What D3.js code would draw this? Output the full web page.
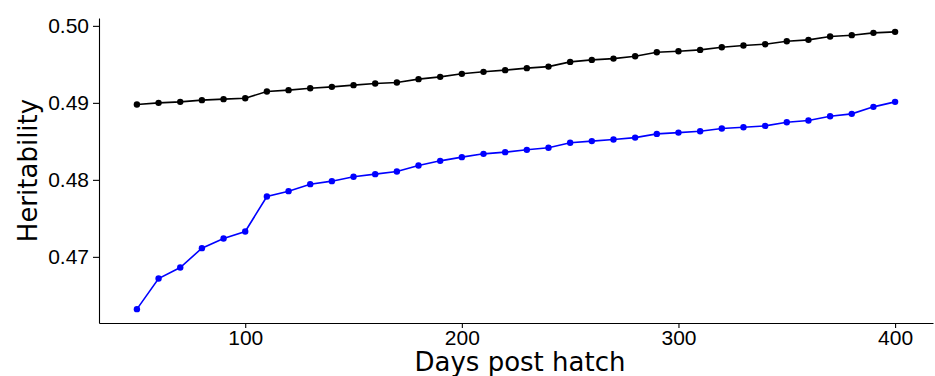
<!DOCTYPE html>
<html>
<head>
<meta charset="utf-8">
<script src="https://cdn.jsdelivr.net/npm/d3@7/dist/d3.min.js"></script>
<style>
  body { margin: 0; background: #fff; }
  svg { display: block; font-family: "DejaVu Sans", sans-serif; }
  .axis path, .axis line { stroke: #000; stroke-width: 1.1; }
  .axis text { fill: #000; font-size: 21px; }
</style>
</head>
<body>
<svg id="chart"></svg>
<script>
// days post hatch
const days = d3.range(50, 401, 10);

// upper (black) series
const blackValues = [
  0.48978, 0.49000, 0.49013, 0.49035, 0.49048, 0.49060, 0.49147, 0.49165, 0.49190, 0.49208,
  0.49230, 0.49251, 0.49264, 0.49308, 0.49338, 0.49377, 0.49403, 0.49425, 0.49451, 0.49471,
  0.49532, 0.49558, 0.49575, 0.49606, 0.49658, 0.49671, 0.49688, 0.49723, 0.49744, 0.49762,
  0.49801, 0.49818, 0.49861, 0.49879, 0.49909, 0.49922
];

// lower (blue) series
const blueValues = [
  0.46321, 0.46718, 0.46861, 0.47113, 0.47238, 0.47329, 0.47783, 0.47853, 0.47944, 0.47983,
  0.48040, 0.48074, 0.48108, 0.48186, 0.48247, 0.48295, 0.48338, 0.48360, 0.48390, 0.48416,
  0.48481, 0.48503, 0.48524, 0.48549, 0.48597, 0.48614, 0.48632, 0.48666, 0.48684, 0.48701,
  0.48749, 0.48770, 0.48827, 0.48857, 0.48948, 0.49013
];

const xTicks = [100, 200, 300, 400];
const yTicks = [0.47, 0.48, 0.49, 0.50];

const width = 935, height = 376;
const margin = { top: 18, right: 2, bottom: 53, left: 99 };

const svg = d3.select('#chart').attr('width', width).attr('height', height);

// ggplot-style 5% expansion
const xPad = (400 - 50) * 0.05;
const yMin = d3.min(blueValues), yMax = d3.max(blackValues);
const yPad = (yMax - yMin) * 0.05;

const x = d3.scaleLinear()
  .domain([50 - xPad, 400 + xPad])
  .range([margin.left, width - margin.right]);

const y = d3.scaleLinear()
  .domain([yMin - yPad, yMax + yPad])
  .range([height - margin.bottom, margin.top]);

// axes
svg.append('g')
  .attr('class', 'axis')
  .attr('transform', `translate(0,${height - margin.bottom})`)
  .call(d3.axisBottom(x).tickValues(xTicks).tickSize(5).tickPadding(2).tickSizeOuter(0))
  .selectAll('text').attr('dy', '0.71em');

svg.append('g')
  .attr('class', 'axis')
  .attr('transform', `translate(${margin.left},0)`)
  .call(d3.axisLeft(y).tickValues(yTicks).tickFormat(d3.format('.2f')).tickSize(6).tickPadding(4).tickSizeOuter(0));

// axis titles
svg.append('text')
  .attr('x', 520)
  .attr('y', 371)
  .attr('text-anchor', 'middle')
  .style('font-size', '26px')
  .text('Days post hatch');

svg.append('text')
  .attr('transform', `translate(37,${(margin.top + height - margin.bottom) / 2}) rotate(-90)`)
  .attr('text-anchor', 'middle')
  .style('font-size', '26px')
  .text('Heritability');

const series = [
  { values: blackValues, color: '#000000' },
  { values: blueValues, color: '#0000ff' }
];

const line = d3.line()
  .x((d) => x(d[0]))
  .y((d) => y(d[1]));

series.forEach((s) => {
  const pts = days.map((d, i) => [d, s.values[i]]);

  svg.append('path')
    .datum(pts)
    .attr('fill', 'none')
    .attr('stroke', s.color)
    .attr('stroke-width', 1.6)
    .attr('d', line);

  svg.append('g')
    .selectAll('circle')
    .data(pts)
    .enter()
    .append('circle')
    .attr('cx', (d) => x(d[0]))
    .attr('cy', (d) => y(d[1]))
    .attr('r', 3.2)
    .attr('fill', s.color);
});
</script>
</body>
</html>
